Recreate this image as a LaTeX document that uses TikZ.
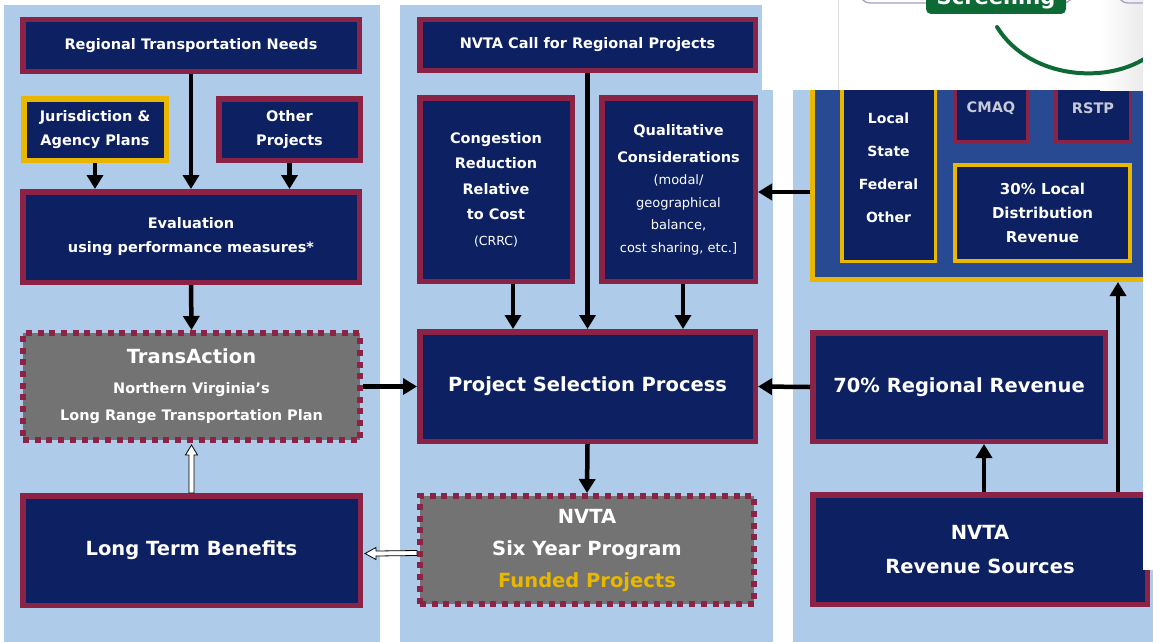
\documentclass[tikz,border=0pt]{standalone}
\usepackage{fontspec}
\setmainfont{DejaVu Sans}
\usetikzlibrary{arrows.meta,calc}
\definecolor{lblue}{RGB}{174,203,233}
\definecolor{navy}{RGB}{12,32,98}
\definecolor{crim}{RGB}{139,35,70}
\definecolor{gold}{RGB}{234,183,0}
\definecolor{mblue}{RGB}{40,74,147}
\definecolor{dgray}{RGB}{115,115,115}
\definecolor{sgreen}{RGB}{14,106,52}
\definecolor{lav}{RGB}{168,155,200}
\definecolor{ltxt}{RGB}{200,200,215}
\newcommand\fs[2]{\fontsize{#1}{#2}\selectfont}
\tikzset{
 bx/.style={inner sep=0pt, align=center, text=white, font=\bfseries\fs{14.5}{24}},
 nb/.style={bx, fill=navy, draw=crim},
 yb/.style={bx, fill=navy, draw=gold},
 gb/.style={bx, fill=dgray, draw=crim, dash pattern=on 6pt off 5.7pt},
 big/.style={font=\bfseries\fs{19.5}{24}},
 arr/.style={line width=4.5pt, -{Triangle[width=16pt,length=14pt]}},
 hol/.style={fill=white, draw=black, line width=0.8pt, line join=miter},
 panel/.style={fill=lblue, draw=none},
}
\newcommand\mybox[8]{\node[#7, line width=#6pt, minimum width={#4-#2-#6}, minimum height={#5-#3-#6}] (#1) at ({(#2+#4)/2},{(#3+#5)/2}) {#8};}
\begin{document}
\begin{tikzpicture}[x=1pt,y=-1pt]
\useasboundingbox (0,0) rectangle (1153,642);
\fill[white] (0,0) rectangle (1153,642);
% panels
\fill[panel] (4,5) rectangle (380,642);
\fill[panel] (400,5) rectangle (773,642);
\fill[panel] (793,5) rectangle (1153,642);
% left column
\mybox{rtn}{20}{17}{362}{74}{5.5}{nb}{Regional Transportation Needs}
\mybox{jur}{21}{96}{169}{163}{5.5}{yb}{Jurisdiction \&\\Agency Plans}
\mybox{oth}{216}{96}{363}{163}{5.5}{nb}{Other\\Projects}
\mybox{ev}{20}{189}{362}{285}{5.5}{nb}{Evaluation\\using performance measures*}
\mybox{ta}{20}{330}{363}{443}{6}{gb, font=\bfseries\fs{14.5}{27}}{{\fs{19.5}{27}TransAction}\\[3pt]Northern Virginia’s\\Long Range Transportation Plan}
\mybox{ltb}{20}{493}{363}{608}{5.5}{nb, big}{Long Term Benefits}
% middle column
\mybox{call}{417}{17}{758}{73}{5.5}{nb}{NVTA Call for Regional Projects}
\mybox{cong}{417}{95}{575}{284}{5.5}{nb, font=\bfseries\fs{14.5}{25.5}}{Congestion\\Reduction\\Relative\\to Cost\\{\mdseries\fs{12.5}{25}(CRRC)}}
\mybox{qual}{599}{95}{758}{284}{5.5}{nb, font=\bfseries\fs{14.5}{22.5}}{Qualitative\\[4.5pt]Considerations\\{\mdseries\fs{13}{22.5}(modal/}\\{\mdseries\fs{13}{22.5}geographical}\\{\mdseries\fs{13}{22.5}balance,}\\{\mdseries\fs{13}{22.5}cost sharing, etc.]}}
\mybox{psp}{417}{329}{758}{444}{5.5}{nb, big}{Project Selection Process}
\mybox{syp}{417}{493}{757}{607}{6}{gb, font=\bfseries\fs{19.5}{32}}{NVTA\\Six Year Program\\{\color{gold}Funded Projects}}
% right column
\mybox{bigb}{810}{60}{1158}{282}{5}{yb, fill=mblue}{}
\mybox{loc}{840}{73}{937}{263}{3.5}{yb, font=\bfseries\fs{14}{33}}{Local\\State\\Federal\\Other}
\mybox{cmaq}{953}{73}{1029}{143}{3.5}{nb}{\color{ltxt}CMAQ}
\mybox{rstp}{1054}{73}{1132}{143}{3.5}{nb}{\color{ltxt}RSTP}
\mybox{loct}{953}{163}{1132}{263}{4}{yb, font=\bfseries\fs{15}{24}}{30\% Local\\Distribution\\Revenue}
\mybox{rr}{810}{330}{1108}{444}{5.5}{nb, big}{70\% Regional Revenue}
\mybox{rs}{810}{492}{1150}{607}{5.5}{nb, font=\bfseries\fs{19.5}{34}}{NVTA\\Revenue Sources}
% arrows
\draw[arr] (rtn.south) -- (ev.north);
\draw[arr] (jur.south) -- (jur.south |- ev.north);
\draw[arr] (oth.south) -- (oth.south |- ev.north);
\draw[arr] (ev.south) -- (ta.north);
\draw[arr] (ta.east) -- (psp.west);
\draw[arr] (call.south) -- (psp.north);
\draw[arr] (cong.south -| 513,0) -- (psp.north -| 513,0);
\draw[arr] (qual.south -| 683,0) -- (psp.north -| 683,0);
\draw[arr] (psp.south) -- (syp.north);
\draw[arr] (rr.west) -- (psp.east);
\draw[arr] (rs.north -| 984,0) -- (rr.south -| 984,0);
\draw[arr] (rs.north -| 1118,0) -- (bigb.south -| 1118,0);
\draw[arr] (bigb.west |- 0,192) -- (qual.east |- 0,192);
% hollow arrows
\draw[hol] ($(ltb.north)+(-2.5,0)$) -- ($(ltb.north)+(-2.5,-38)$) -- ($(ltb.north)+(-6,-38)$) -- ($(ta.south)+(0,2)$) -- ($(ltb.north)+(6,-38)$) -- ($(ltb.north)+(2.5,-38)$) -- ($(ltb.north)+(2.5,0)$) -- cycle;
\draw[hol] ($(syp.west)+(0,0.5)$) -- ($(ltb.east)+(13,0.5)$) -- ($(ltb.east)+(13,-3)$) -- ($(ltb.east)+(2,3)$) -- ($(ltb.east)+(13,9)$) -- ($(ltb.east)+(13,5.5)$) -- ($(syp.west)+(0,5.5)$) -- cycle;
% overlay at top right
\fill[white] (762,0) rectangle (1143,90);
\shade[left color=white, right color=black!8] (1100,0) rectangle (1143,90);
\draw[black!12, line width=1pt] (838,0) -- (838,90);
\begin{scope}
\clip (762,0) rectangle (1143,90);
\draw[lav, line width=1.2pt, rounded corners=10pt] (860,-40) rectangle (1073,3);
\draw[lav, line width=1.2pt, rounded corners=10pt] (1118,-40) rectangle (1220,3);
\fill[sgreen, rounded corners=5pt] (926,-20) rectangle (1066,14);
\node[anchor=base, inner sep=0pt, text=white, font=\bfseries\fs{21}{21}] (scr) at (996,5) {Screening};
\draw[sgreen, line width=4pt, line cap=round] (997,27) .. controls (1030,80) and (1110,85) .. (1150,55);
\end{scope}
\fill[white] (1143,0) rectangle (1153,570);
\end{tikzpicture}
\end{document}
